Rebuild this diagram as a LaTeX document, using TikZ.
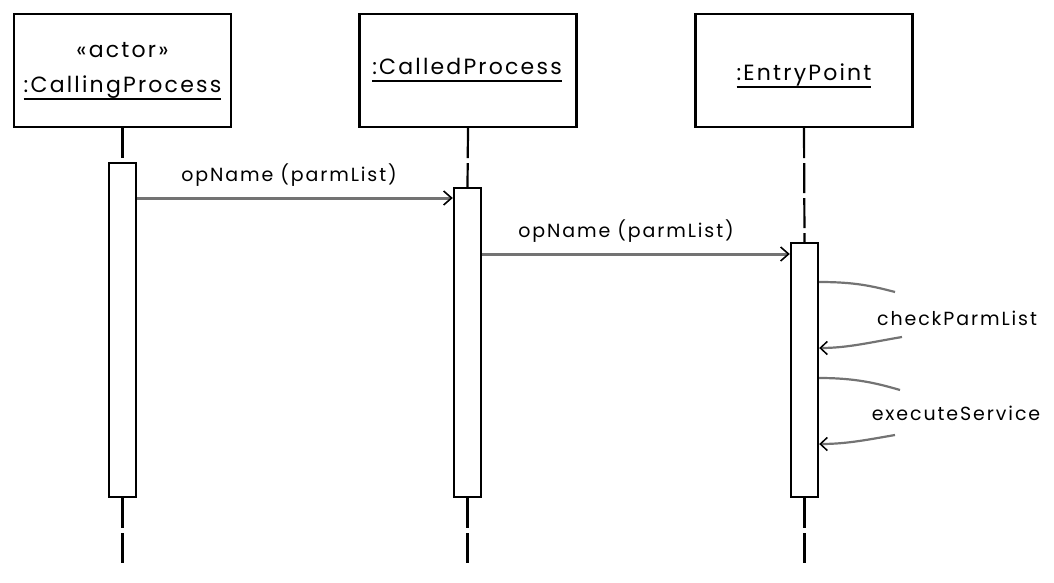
\documentclass[tikz,border=0pt]{standalone}
\usepackage{fontspec}
\setmainfont{Poppins}
\usetikzlibrary{arrows.meta,positioning}
\newcommand{\objname}[1]{\setbox0\hbox{#1}\rlap{\rule[-7pt]{\wd0}{2pt}}\box0}

\begin{document}
\begin{tikzpicture}[x=1pt,y=-1pt,line width=2.4pt,
		object node/.style={draw,rectangle,minimum width=217pt,minimum height=113pt,inner sep=0pt},
		name node/.style={anchor=base,inner sep=0pt,
			font=\fontsize{22}{26}\selectfont\addfontfeature{LetterSpace=10}},
		activation node/.style={draw,fill=white,rectangle,minimum width=27pt,inner sep=0pt},
		lifeline/.style={line width=2.2pt,dash pattern=on 30pt off 5pt},
		msg label/.style={inner sep=0pt,
			font=\fontsize{19}{23}\selectfont\addfontfeature{LetterSpace=10}},
		message/.style={draw=black!55,line width=3pt,
			-{Straight Barb[length=8pt,width=14pt,line width=1.6pt,color=black]}},
		self call/.style={draw=black!55,line width=2.2pt},
		self return/.style={self call,
			-{Straight Barb[length=7pt,width=13pt,line width=1.5pt,color=black]}}]
		
		\useasboundingbox (0,0) rectangle (1054,583);
		
		% objects
		\node[object node] (calling) at (122.5,70.5) {};
		\node[object node] (called) at (468,70.5) {};
		\node[object node] (entry) at (804,70.5) {};
		\node[name node] (callingstereo) at (122.5,58) {«actor»};
		\node[name node] (callingname) at (122.5,93) {\objname{:CallingProcess}};
		\node[name node] (calledname) at (467,75) {\objname{:CalledProcess}};
		\node[name node] (entryname) at (804,81) {\objname{:EntryPoint}};
		
		% activations
		\node[activation node,minimum height=334pt] (callingact) at (122.5,330) {};
		\node[activation node,minimum height=309pt] (calledact) at (467.5,342.5) {};
		\node[activation node,minimum height=254pt] (entryact) at (804.5,370) {};
		
		% lifelines
		\coordinate (callingend) at (122.5,563);
		\coordinate (calledend) at (467.5,563);
		\coordinate (entryend) at (804.5,563);
		\draw[lifeline] (calling.south) -- (callingact.north);
		\draw[lifeline] (callingact.south) -- (callingend);
		\draw[lifeline] (called.south) -- (calledact.north);
		\draw[lifeline] (calledact.south) -- (calledend);
		\draw[lifeline] (entry.south) -- (entryact.north);
		\draw[lifeline] (entryact.south) -- (entryend);
		
		% messages
		\coordinate (m1) at (0,198);
		\coordinate (m2) at (0,254);
		\draw[message] (callingact.east |- m1) -- node[msg label,above=10pt,xshift=-6pt] {opName (parmList)} (calledact.west |- m1);
		\draw[message] (calledact.east |- m2) -- node[msg label,above=10pt,xshift=-10pt] {opName (parmList)} (entryact.west |- m2);
		
		% self calls
		\coordinate (s1) at (0,282);
		\coordinate (r1) at (0,348);
		\coordinate (s2) at (0,378);
		\coordinate (r2) at (0,444);
		\coordinate (chkout) at (895,292);
		\coordinate (chkin) at (902,337);
		\coordinate (exeout) at (900,390);
		\coordinate (exein) at (895,435);
		\node[msg label] (chklabel) at (957,318) {checkParmList};
		\node[msg label] (exelabel) at (956,413) {executeService};
		\draw[self call] (entryact.east |- s1) .. controls (855,282) and (872,286) .. (chkout);
		\draw[self return] (chkin) .. controls (872,342) and (848,348) .. (entryact.east |- r1);
		\draw[self call] (entryact.east |- s2) .. controls (855,378) and (876,383) .. (exeout);
		\draw[self return] (exein) .. controls (866,440) and (846,444) .. (entryact.east |- r2);
		
\end{tikzpicture}
\end{document}
